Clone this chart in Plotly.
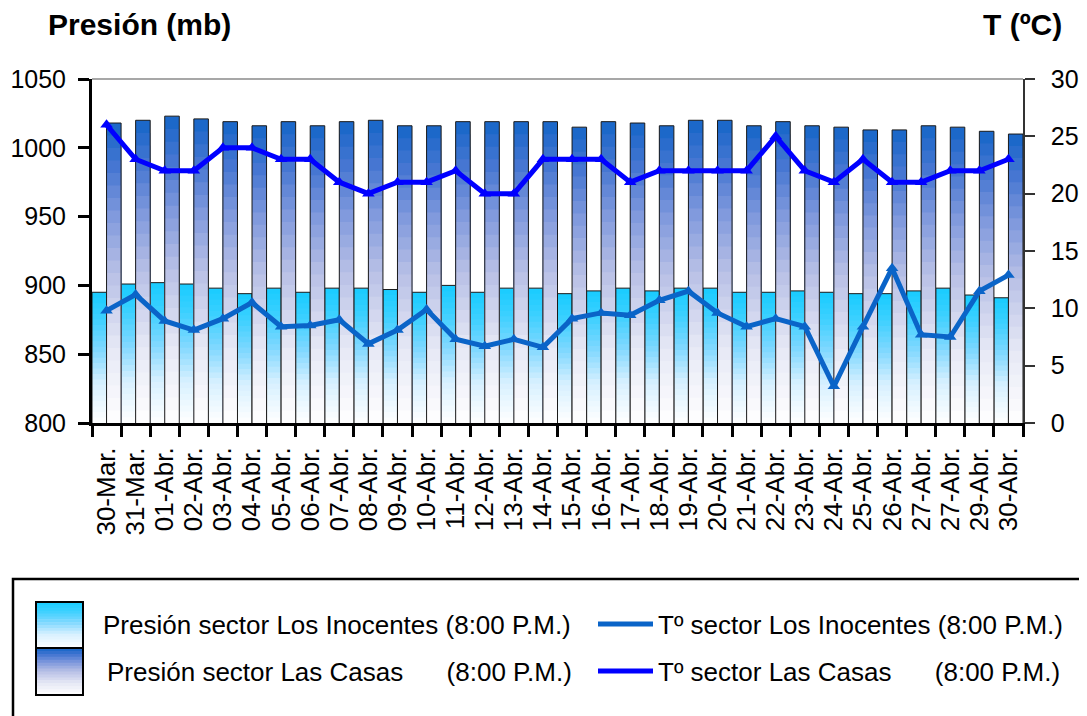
import plotly.graph_objects as go
from plotly.colors import sample_colorscale

# Data
fechas = ["30-Mar.", "31-Mar."] + [f"{d:02d}-Abr." for d in range(1, 28)] + ["27-Abr.", "29-Abr.", "30-Abr."]

presion_inocentes = [895, 901, 902, 901, 898, 894, 898, 895, 898, 898, 897, 895, 900, 895, 898, 898,
                     894, 896, 898, 896, 898, 898, 895, 895, 896, 895, 894, 894, 896, 898, 893, 891]
presion_casas = [1018, 1020, 1023, 1021, 1019, 1016, 1019, 1016, 1019, 1020, 1016, 1016, 1019, 1019, 1019, 1019,
                 1015, 1019, 1018, 1016, 1020, 1020, 1016, 1019, 1016, 1015, 1013, 1013, 1016, 1015, 1012, 1010]
temp_inocentes = [9.8, 11.2, 8.9, 8.1, 9.1, 10.5, 8.4, 8.5, 9.0, 6.9, 8.1, 9.9, 7.3, 6.7, 7.3, 6.6,
                  9.1, 9.6, 9.4, 10.7, 11.5, 9.6, 8.4, 9.1, 8.4, 3.2, 8.4, 13.5, 7.7, 7.5, 11.5, 12.9]
temp_casas = [26, 23, 22, 22, 24, 24, 23, 23, 21, 20, 21, 21, 22, 20, 20, 23,
              23, 23, 21, 22, 22, 22, 22, 25, 22, 21, 23, 21, 21, 22, 22, 23]

idx = list(range(len(fechas)))
BASE = 800
FONT = "Liberation Sans, Arial, sans-serif"

escala_cian = [[0, "rgb(255,255,255)"], [0.3, "rgb(215,240,255)"], [0.55, "rgb(130,216,255)"],
               [0.8, "rgb(60,208,255)"], [1, "rgb(24,204,255)"]]
escala_azul = [[0, "rgb(255,255,255)"], [0.25, "rgb(230,232,245)"], [0.5, "rgb(184,192,230)"],
               [0.7, "rgb(125,151,220)"], [0.85, "rgb(71,119,210)"], [1, "rgb(21,101,200)"]]

N = 24
W, H = 1087, 716
OFF = 8  # page body margin
X0, X1, Y0, Y1 = 92, 1023, 79, 423  # plot area on screen
L, R, T, B = X0 - OFF, W - (X1 - OFF), Y0 - OFF, H - (Y1 - OFF)


def px_x(x):
    return (x - X0) / (X1 - X0)


def px_y(y):
    return (Y1 - y) / (Y1 - Y0)


def barras_degradado(valores, escala, offset, nombre, leyenda):
    trazas = []
    for i in range(N):
        f = 1 - i / N
        color = sample_colorscale(escala, [f - 0.5 / N])[0]
        trazas.append(go.Bar(
            x=idx, y=[BASE + (v - BASE) * f for v in valores],
            offset=offset, width=0.5,
            marker=dict(color=color, line=dict(width=0)),
            showlegend=False, hoverinfo="skip",
        ))
    # outline of each bar
    trazas.append(go.Bar(
        x=idx, y=valores, offset=offset, width=0.5,
        marker=dict(color="rgba(0,0,0,0)", line=dict(color="#1a1a1a", width=1)),
        name=nombre, showlegend=False,
    ))
    # legend entry (swatch drawn with shapes)
    trazas.append(go.Bar(
        x=idx, y=valores, offset=offset, width=0.5,
        marker=dict(color="rgba(0,0,0,0)", line=dict(width=0)),
        name=nombre, legend=leyenda, hoverinfo="skip",
    ))
    return trazas


fig = go.Figure()
for t in barras_degradado(presion_inocentes, escala_cian, -0.5,
                          "Presión sector Los Inocentes (8:00 P.M.)", "legend"):
    fig.add_trace(t)
for t in barras_degradado(presion_casas, escala_azul, 0.0,
                          "Presión sector Las Casas" + "\u00a0" * 6 + "(8:00 P.M.)", "legend3"):
    fig.add_trace(t)

for temps, color, nombre, leyenda in [
    (temp_inocentes, "#0a64c8", "Tº sector Los Inocentes (8:00 P.M.)", "legend2"),
    (temp_casas, "#0000ff", "Tº sector Las Casas" + "\u00a0" * 6 + "(8:00 P.M.)", "legend4"),
]:
    fig.add_trace(go.Scatter(
        x=idx, y=temps, yaxis="y2", mode="lines", name=nombre, legend=leyenda,
        line=dict(color=color, width=5),
    ))
    fig.add_trace(go.Scatter(
        x=idx, y=temps, yaxis="y2", mode="markers", name=nombre, showlegend=False,
        marker=dict(symbol="triangle-up", size=11, color=color),
    ))

# legend frame and gradient swatches
shapes = [
    dict(type="line", xref="paper", yref="paper", x0=0, x1=1, y0=1, y1=1,
         line=dict(color="#8a8a8a", width=1.5)),
    dict(type="rect", xref="paper", yref="paper", x0=px_x(13), x1=px_x(1100), y0=px_y(579), y1=px_y(730),
         line=dict(color="black", width=2.5), fillcolor="rgba(0,0,0,0)"),
]
M = 16
for (top, bot, escala) in [(602, 648, escala_cian), (648, 695, escala_azul)]:
    h = (bot - top) / M
    for j in range(M):
        c = sample_colorscale(escala, [1 - (j + 0.5) / M])[0]
        shapes.append(dict(type="rect", xref="paper", yref="paper",
                           x0=px_x(36), x1=px_x(83), y0=px_y(top + j * h), y1=px_y(top + (j + 1) * h + 0.5),
                           line=dict(width=0), fillcolor=c))
    shapes.append(dict(type="rect", xref="paper", yref="paper",
                       x0=px_x(36), x1=px_x(83), y0=px_y(top), y1=px_y(bot),
                       line=dict(color="black", width=2), fillcolor="rgba(0,0,0,0)"))

leg_font = dict(family=FONT, size=26, color="black")


def leyenda(x, y, ancho):
    return dict(x=px_x(x), y=px_y(y), xanchor="left", yanchor="middle", font=leg_font,
                bgcolor="rgba(0,0,0,0)", borderwidth=0, itemwidth=ancho, orientation="v")


fig.update_layout(
    width=W, height=H,
    margin=dict(l=L, r=R, t=T, b=B, autoexpand=False),
    plot_bgcolor="white", paper_bgcolor="white",
    barmode="overlay",
    font=dict(family=FONT, color="black"),
    shapes=shapes,
    legend=leyenda(16, 624, 77),
    legend2=leyenda(593, 624, 55),
    legend3=leyenda(20, 671, 77),
    legend4=leyenda(593, 671, 55),
    xaxis=dict(
        range=[-0.5, 31.5], tickmode="array", tickvals=idx, ticktext=fechas,
        tickangle=-90, ticks="", tickfont=dict(size=26), ticklabelstandoff=11,
        showline=True, linecolor="black", linewidth=3, showgrid=False, zeroline=False,
        automargin=False,
        minor=dict(tickmode="linear", tick0=0.5, dtick=1, ticks="outside", ticklen=11,
                   tickwidth=3, tickcolor="black"),
    ),
    yaxis=dict(
        range=[800, 1050], dtick=50, ticks="outside", ticklen=11, tickwidth=3, tickcolor="black",
        tickfont=dict(size=25), ticklabelstandoff=7, automargin=False,
        showline=True, linecolor="black", linewidth=3, showgrid=False, zeroline=False,
    ),
    yaxis3=dict(
        range=[800, 1050], dtick=50, overlaying="y", side="left", anchor="x",
        ticks="inside", ticklen=10, tickwidth=3, tickcolor="black", automargin=False,
        showticklabels=False, showline=False, showgrid=False, zeroline=False,
    ),
    yaxis2=dict(
        range=[0, 30], dtick=5, overlaying="y", side="right", anchor="x",
        ticks="outside", ticklen=10, tickwidth=1.5, tickcolor="#333",
        tickfont=dict(size=25), ticklabelstandoff=11, automargin=False,
        showline=True, linecolor="#333", linewidth=1.5, showgrid=False, zeroline=False,
    ),
    yaxis4=dict(
        range=[0, 30], dtick=5, overlaying="y", side="right", anchor="x",
        ticks="inside", ticklen=10, tickwidth=1.5, tickcolor="#333", automargin=False,
        showticklabels=False, showline=False, showgrid=False, zeroline=False,
    ),
    annotations=[
        dict(text="<b>Presión (mb)</b>", xref="paper", yref="paper", x=px_x(46), y=px_y(25),
             xanchor="left", yanchor="middle", showarrow=False, font=dict(size=30)),
        dict(text="<b>T (ºC)</b>", xref="paper", yref="paper", x=px_x(1064), y=px_y(25),
             xanchor="right", yanchor="middle", showarrow=False, font=dict(size=30)),
    ],
)

fig.write_html("out.html")
